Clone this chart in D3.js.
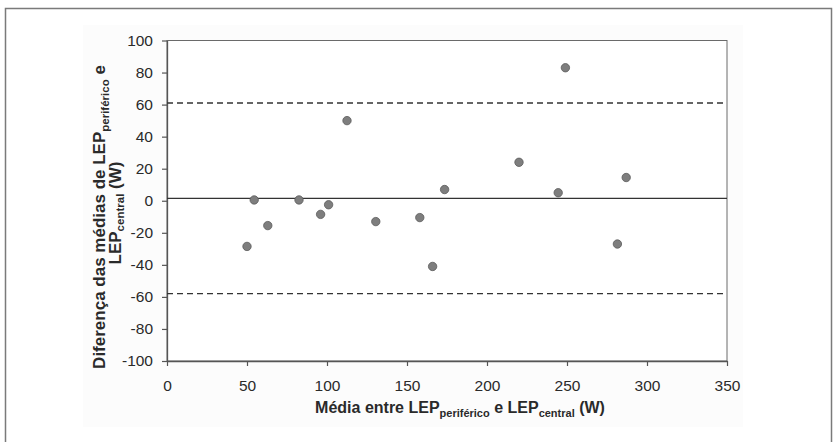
<!DOCTYPE html>
<html>
<head>
<meta charset="utf-8">
<script src="https://cdn.jsdelivr.net/npm/d3@7"></script>
<style>
  body { margin: 0; background: #fff; }
  svg { display: block; font-family: "Liberation Sans", Arial, sans-serif; }
</style>
</head>
<body>
<svg width="834" height="442"></svg>
<script>
// media entre LEP periferico e LEP central (W)
var meanW = [50, 54.5, 63, 82.5, 96, 101, 112.5, 130.5, 158, 166, 173.5, 220, 244.5, 249, 281.5, 287];
// diferenca das medias (W)
var diffW = [-28.5, 0.5, -15.5, 0.5, -8.5, -2.5, 50, -13, -10.5, -41, 7, 24, 5, 83, -27, 14.5];
var meanDiff = 1.5,
    upperLimit = 61,
    lowerLimit = -58;
var xTicks = [0, 50, 100, 150, 200, 250, 300, 350],
    yTicks = [-100, -80, -60, -40, -20, 0, 20, 40, 60, 80, 100];

var svg = d3.select("svg");

// outer frame of the figure
svg.append("rect")
    .attr("x", 5.5).attr("y", 8.5)
    .attr("width", 826).attr("height", 460)
    .attr("fill", "#fff")
    .attr("stroke", "#7a7a7a")
    .attr("stroke-width", 1.5);

// faint chart area
svg.append("rect")
    .attr("x", 83).attr("y", 25)
    .attr("width", 660).attr("height", 402)
    .attr("fill", "#fcfcfc");

var pLeft = 167, pRight = 727, pTop = 40.5, pBottom = 361;

var x = d3.scaleLinear().domain([0, 350]).range([pLeft, pRight]);
var y = d3.scaleLinear().domain([-100, 100]).range([pBottom, pTop]);

// plot area
svg.append("rect")
    .attr("x", pLeft).attr("y", pTop)
    .attr("width", pRight - pLeft).attr("height", pBottom - pTop)
    .attr("fill", "#fff")
    .attr("stroke", "#6a6a6a")
    .attr("stroke-width", 1);

// plain hyphen for negatives, like the original
var fmt = function(d){ return String(d); };

var xAxis = svg.append("g")
    .attr("transform", "translate(0," + pBottom + ")")
    .call(d3.axisBottom(x).tickValues(xTicks).tickFormat(fmt).tickSize(5).tickPadding(14).tickSizeOuter(0));

var yAxis = svg.append("g")
    .attr("transform", "translate(" + pLeft + ",0)")
    .call(d3.axisLeft(y).tickValues(yTicks).tickFormat(fmt).tickSize(5).tickPadding(9).tickSizeOuter(0));

[xAxis, yAxis].forEach(function(a){
  a.select(".domain").attr("stroke", "#555").attr("stroke-width", 1.3);
  a.selectAll(".tick line").attr("stroke", "#555").attr("stroke-width", 1.2);
  a.selectAll(".tick text")
    .attr("fill", "#2a2a2a")
    .style("font-size", "15.5px")
    .style("font-family", "'Liberation Sans', Arial, sans-serif");
});

// mean and limits of agreement
svg.append("line")
    .attr("x1", pLeft).attr("x2", pRight)
    .attr("y1", y(meanDiff)).attr("y2", y(meanDiff))
    .attr("stroke", "#333").attr("stroke-width", 1.4);

[upperLimit, lowerLimit].forEach(function(v){
  svg.append("line")
    .attr("x1", pLeft).attr("x2", pRight)
    .attr("y1", y(v)).attr("y2", y(v))
    .attr("stroke", "#333").attr("stroke-width", 1.3)
    .attr("stroke-dasharray", "6,4");
});

var pts = meanW.map(function(d, i){ return {x: d, y: diffW[i]}; });

svg.append("g")
    .selectAll("circle")
    .data(pts)
    .enter().append("circle")
    .attr("cx", function(d){ return x(d.x); })
    .attr("cy", function(d){ return y(d.y); })
    .attr("r", 4.2)
    .attr("fill", "#7e7e7e")
    .attr("stroke", "#5a5a5a")
    .attr("stroke-width", 0.8);

// axis titles with subscripts
var xTitle = svg.append("text")
    .attr("x", 460).attr("y", 413)
    .attr("text-anchor", "middle")
    .attr("fill", "#2a2a2a")
    .style("font-size", "16px")
    .style("font-weight", "bold");
xTitle.append("tspan").text("Média entre LEP");
xTitle.append("tspan").attr("dy", 4).style("font-size", "11px").text("periférico");
xTitle.append("tspan").attr("dy", -4).text(" e LEP");
xTitle.append("tspan").attr("dy", 4).style("font-size", "11px").text("central");
xTitle.append("tspan").attr("dy", -4).text(" (W)");

var yTitle = svg.append("g")
    .attr("transform", "translate(105,217) rotate(-90)");

var l1 = yTitle.append("text")
    .attr("text-anchor", "middle")
    .attr("fill", "#2a2a2a")
    .style("font-size", "17px")
    .style("font-weight", "bold");
l1.append("tspan").text("Diferença das médias de LEP");
l1.append("tspan").attr("dy", 4).style("font-size", "11.5px").text("periférico");
l1.append("tspan").attr("dy", -4).text(" e");

var l2 = yTitle.append("text")
    .attr("y", 16)
    .attr("x", 4)
    .attr("text-anchor", "middle")
    .attr("fill", "#2a2a2a")
    .style("font-size", "17px")
    .style("font-weight", "bold");
l2.append("tspan").text("LEP");
l2.append("tspan").attr("dy", 3).style("font-size", "11.5px").text("central");
l2.append("tspan").attr("dy", -3).text(" (W)");
</script>
</body>
</html>
